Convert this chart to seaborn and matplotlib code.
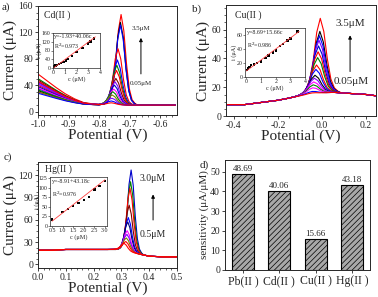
import numpy as np
import pandas as pd
import matplotlib
matplotlib.use('Agg')
import matplotlib.pyplot as plt
import seaborn as sns

sns.set_style('ticks')
plt.rcParams['font.family'] = ['Liberation Serif', 'DejaVu Serif']
plt.rcParams['axes.unicode_minus'] = False
plt.rcParams['hatch.linewidth'] = 0.5

# ---- data ----
# common peak shape (offset in half-widths, relative height)
PEAK_U = np.array([-3, -2.5, -2, -1.5, -1, -0.5, 0, 0.5, 1, 1.5, 2, 2.5, 3])
PEAK_S = np.array([0.01, 0.03, 0.08, 0.2, 0.45, 0.82, 1, 0.82, 0.45, 0.18, 0.06, 0.02, 0])

# a) Cd
cd_bx = np.array([-1.0, -0.97, -0.94, -0.91, -0.88, -0.85, -0.82, -0.8, -0.7, -0.65, -0.6, -0.55])
cd_tail = np.array([1.0, 0.78, 0.56, 0.36, 0.2, 0.08, 0.04, 0.02, 0, 0, 0, 0])
cd_base = 10
cd_start = [30, 32, 35, 40, 45, 50, 57, 48, 42, 38, 36, 33, 30, 44, 28, 46]
cd_height = [137, 125, 121, 85, 68, 60, 52, 40, 35, 30, 24, 20, 15, 10, 6, 3]
cd_pos = [-0.728, -0.73, -0.73, -0.738, -0.74, -0.742, -0.743, -0.745, -0.748, -0.75,
          -0.752, -0.755, -0.757, -0.758, -0.76, -0.76]
cd_colors = ['#ff0000', '#000000', '#0000ff', '#ff0000', '#0000ff', '#008000', '#ff0000', '#800000',
             '#8000ff', '#0000cc', '#ff00ff', '#008000', '#808000', '#8000ff', '#0000ff', '#ff0000']
cd_c = [0.05, 0.1, 0.2, 0.3, 0.5, 0.7, 0.9, 1.1, 1.3, 1.6, 2.0, 2.5, 3.0, 3.2, 3.5]
cd_i = [5, 8, 12, 15, 18, 22, 28, 35, 42, 55, 72, 92, 112, 122, 135]
cd_fit_x = [0, 3.6]
cd_fit_y = [-1.93, 142.3]

# b) Cu
cu_bx = np.array([-0.45, -0.4, -0.35, -0.3, -0.25, -0.2, -0.15, -0.1, -0.05, 0.0, 0.05, 0.1, 0.15, 0.2, 0.25])
cu_by = np.array([8, 8, 8, 9, 10, 11, 12.5, 14, 15, 16, 16.5, 16, 15.5, 15, 14])
cu_height = [52, 43, 40, 37, 33, 29, 25, 20, 17, 13, 11, 8.5, 6.5, 4.5, 2, 1]
cu_pos = [-0.008, -0.01, -0.012, -0.014, -0.016, -0.018, -0.02, -0.025, -0.028, -0.032,
          -0.035, -0.038, -0.04, -0.042, -0.045, -0.045]
cu_colors = ['#ff0000', '#000000', '#0000ff', '#8000ff', '#0000cc', '#ff0000', '#008000', '#ff0000',
             '#0000ff', '#000000', '#8000ff', '#ff00ff', '#008000', '#ff00ff', '#0000ff', '#ff0000']
cu_c = [0.05, 0.1, 0.2, 0.3, 0.5, 0.7, 1.0, 1.3, 1.5, 1.8, 2.0, 2.3, 2.5, 2.8, 3.0, 3.5]
cu_i = [10, 12, 14, 17, 18, 20, 22, 27, 31, 35, 38, 44, 47, 52, 55, 65]
cu_fit_x = [0, 3.6]
cu_fit_y = [8.69, 65.1]

# c) Hg
hg_bx = np.array([0.0, 0.05, 0.1, 0.15, 0.2, 0.25, 0.28, 0.3, 0.35, 0.4, 0.45, 0.5])
hg_by = np.array([19, 19, 20, 20, 20, 20, 20, 19, 15, 11, 10, 10])
hg_height = [111, 95, 86, 63, 46, 40, 28, 23, 18, 13, 10]
hg_pos = [0.335, 0.333, 0.331, 0.328, 0.325, 0.323, 0.321, 0.32, 0.318, 0.316, 0.31]
hg_colors = ['#0000cc', '#008000', '#ff0000', '#800000', '#0000ff', '#000080',
             '#ff00ff', '#8000ff', '#808000', '#ff0000', '#ff0000']
hg_c = [0.5, 1.0, 1.25, 1.5, 1.75, 2.0, 2.25, 2.5, 2.75, 3.0]
hg_i = [17, 36, 45, 53, 60, 68, 75, 95, 105, 118]
hg_fit_x = [0.5, 3.0]
hg_fit_y = [12.7, 120.6]

# d) sensitivity
ions = ['Pb(II )', 'Cd(II )', 'Cu(II )', 'Hg(II )']
sens = [48.69, 40.06, 15.66, 43.18]


def trace(bx, by, pos, hw, height):
    px = pos + hw * PEAK_U
    keep = (bx < px[0]) | (bx > px[-1])
    x = np.concatenate([bx[keep], px])
    y = np.concatenate([by[keep], np.interp(px, bx, by) + height * PEAK_S])
    o = np.argsort(x)
    return x[o], y[o]


def curves_df(items):
    rows = []
    for k, (x, y) in enumerate(items):
        rows.append(pd.DataFrame({'x': x, 'y': y, 'k': k}))
    return pd.concat(rows)


def draw_curves(ax, df, colors):
    sns.lineplot(data=df, x='x', y='y', hue='k', palette=colors, estimator=None,
                 legend=False, lw=0.8, ax=ax)


def inset(ax, c, i, fx, fy, eq, r2, xlim, ylim, xt, yt):
    sns.lineplot(x=fx, y=fy, color='#ff4040', lw=0.6, ax=ax)
    sns.scatterplot(x=c, y=i, marker='s', s=3, color='black', edgecolor='none', ax=ax)
    ax.set_xlim(*xlim)
    ax.set_ylim(*ylim)
    ax.set_xticks(xt)
    ax.set_yticks(yt)
    ax.tick_params(labelsize=4.2, length=1.2, width=0.4, pad=0.5)
    for s in ax.spines.values():
        s.set_linewidth(0.5)
    ax.set_xlabel('c (μM)', fontsize=4.5, labelpad=0.5)
    ax.set_ylabel('i (μA)', fontsize=4.5, labelpad=0)
    ax.text(0.03, 0.96, eq, transform=ax.transAxes, fontsize=4.3, va='top')
    ax.text(0.03, 0.74, r2, transform=ax.transAxes, fontsize=4.3, va='top')


def style_main(ax):
    ax.tick_params(labelsize=7, length=2.5, width=0.6, pad=1)
    ax.minorticks_on()
    ax.tick_params(which='minor', length=1.5, width=0.5)
    for s in ax.spines.values():
        s.set_linewidth(0.7)


fig = plt.figure(figsize=(3.78, 2.97), dpi=100)

# ---- a) ----
ax = fig.add_axes([0.1005, 0.6128, 0.3677, 0.367])
items = []
for st, h, p in zip(cd_start, cd_height, cd_pos):
    items.append(trace(cd_bx, cd_base + (st - cd_base) * cd_tail, p, 0.018, h))
draw_curves(ax, curves_df(items), cd_colors)
ax.set_xlim(-1.0, -0.545)
ax.set_ylim(-5, 160)
ax.set_xticks([-1.0, -0.9, -0.8, -0.7, -0.6])
ax.set_xticklabels(['-1.0', '-0.9', '-0.8', '-0.7', '-0.6'])
ax.set_yticks([0, 40, 80, 120, 160])
style_main(ax)
ax.set_xlabel('Potential (V)', fontsize=11, labelpad=0)
ax.set_ylabel('Current (μA)', fontsize=11, labelpad=1)
ax.text(0.04, 0.92, 'Cd(II )', transform=ax.transAxes, fontsize=7, va='center')
ax.annotate('', xy=(-0.663, 116), xytext=(-0.663, 53),
            arrowprops=dict(arrowstyle='-|>', lw=0.7, color='black', mutation_scale=5))
ax.text(-0.663, 122, '3.5μM', fontsize=5, ha='center', va='bottom')
ax.text(-0.663, 47, '0.05μM', fontsize=5, ha='center', va='top')
ia = fig.add_axes([53 / 378, 1 - 68 / 297, 47 / 378, 35 / 297])
inset(ia, cd_c, cd_i, cd_fit_x, cd_fit_y, 'y=-1.93+40.06c', 'R$^2$=0.973',
      (0, 4), (0, 160), [0, 1, 2, 3, 4], [0, 40, 80, 120, 160])

# ---- b) ----
ax = fig.add_axes([0.598, 0.609, 0.397, 0.3737])
items = [trace(cu_bx, cu_by, p, 0.032, h) for h, p in zip(cu_height, cu_pos)]
draw_curves(ax, curves_df(items), cu_colors)
ax.set_xlim(-0.435, 0.245)
ax.set_ylim(0, 77)
ax.set_xticks([-0.4, -0.2, 0.0, 0.2])
ax.set_xticklabels(['-0.4', '-0.2', '0.0', '0.2'])
ax.set_yticks([0, 20, 40, 60])
style_main(ax)
ax.set_xlabel('Potential (V)', fontsize=11, labelpad=0)
ax.set_ylabel('Current (μA)', fontsize=11, labelpad=1)
ax.text(0.06, 0.91, 'Cu(II )', transform=ax.transAxes, fontsize=7, va='center')
ax.annotate('', xy=(0.127, 58), xytext=(0.127, 29),
            arrowprops=dict(arrowstyle='-|>', lw=0.7, color='black', mutation_scale=5))
ax.text(0.127, 61, '3.5μM', fontsize=8, ha='center', va='bottom')
ax.text(0.13, 27, '0.05μM', fontsize=8, ha='center', va='top')
ib = fig.add_axes([245 / 378, 1 - 77 / 297, 60 / 378, 49 / 297])
inset(ib, cu_c, cu_i, cu_fit_x, cu_fit_y, 'y=8.69+15.66c', 'R$^2$=0.986',
      (-0.1, 4), (0, 70), [0, 1, 2, 3, 4], [0, 20, 40, 60])

# ---- c) ----
ax = fig.add_axes([0.1005, 0.0976, 0.3677, 0.357])
items = [trace(hg_bx, hg_by, p, 0.015, h) for h, p in zip(hg_height, hg_pos)]
draw_curves(ax, curves_df(items), hg_colors)
ax.set_xlim(0, 0.5)
ax.set_ylim(-5, 138)
ax.set_xticks([0, 0.1, 0.2, 0.3, 0.4, 0.5])
ax.set_yticks([0, 30, 60, 90, 120])
style_main(ax)
ax.set_xlabel('Potential (V)', fontsize=11, labelpad=0)
ax.set_ylabel('Current (μA)', fontsize=11, labelpad=1)
ax.text(0.05, 0.935, 'Hg(II )', transform=ax.transAxes, fontsize=7, va='center')
ax.annotate('', xy=(0.414, 98), xytext=(0.414, 56),
            arrowprops=dict(arrowstyle='-|>', lw=0.7, color='black', mutation_scale=5))
ax.text(0.414, 110, '3.0μM', fontsize=7, ha='center', va='bottom')
ax.text(0.414, 46, '0.5μM', fontsize=7, ha='center', va='top')
ic = fig.add_axes([50 / 378, 1 - 226 / 297, 57 / 378, 49 / 297])
inset(ic, hg_c, hg_i, hg_fit_x, hg_fit_y, 'y=-8.91+43.18c', 'R$^2$=0.976',
      (0.4, 3.1), (0, 128), [0.5, 1.0, 1.5, 2.0, 2.5, 3.0], [0, 25, 50, 75, 100, 125])
ic.yaxis.set_label_coords(-0.17, 0.5)

# ---- d) ----
ax = fig.add_axes([0.595, 0.091, 0.384, 0.370])
sns.barplot(x=ions, y=sens, color='#a8a8a8', edgecolor='black', linewidth=0.8,
            width=0.6, ax=ax)
for bar in ax.patches:
    bar.set_hatch('//////')
for xi, v in enumerate(sens):
    ax.text(xi, v + 0.6, f'{v:.2f}', ha='center', va='bottom', fontsize=6.5)
ax.set_ylim(0, 56)
ax.set_yticks([0, 10, 20, 30, 40, 50])
ax.tick_params(labelsize=7, length=2.5, width=0.6, pad=1)
ax.tick_params(axis='x', labelsize=8.5)
for s in ax.spines.values():
    s.set_linewidth(0.7)
ax.set_ylabel('sensitivity (μA/μM)', fontsize=8, labelpad=1)

fig.text(2 / 378, 1 - 10 / 297, 'a)', fontsize=8)
fig.text(192 / 378, 1 - 12 / 297, 'b)', fontsize=8)
fig.text(4 / 378, 1 - 160 / 297, 'c)', fontsize=8)
fig.text(200 / 378, 1 - 168 / 297, 'd)', fontsize=8)

fig.savefig('out.png', dpi=100)
